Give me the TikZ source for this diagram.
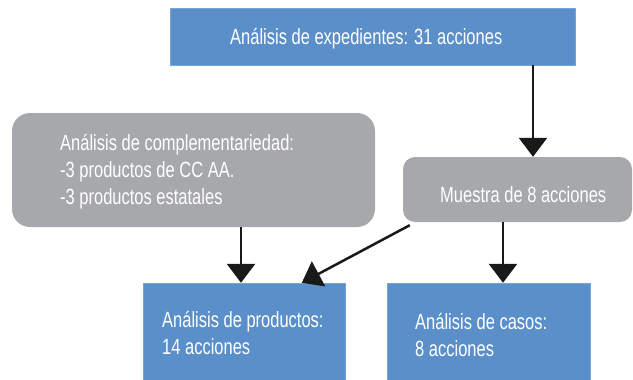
\documentclass[tikz,border=0pt]{standalone}
\usepackage{fontspec}
\setmainfont{Liberation Sans}[FakeStretch=0.75]
\usetikzlibrary{arrows.meta,calc}
\definecolor{boxblue}{RGB}{91,143,202}
\definecolor{boxedge}{RGB}{120,165,215}
\definecolor{boxgray}{RGB}{166,168,171}
\tikzset{
  bluebox/.style={fill=boxblue,draw=boxedge,line width=0.8pt,inner sep=0},
  graybox/.style={fill=boxgray,draw=none,rounded corners=#1,inner sep=0},
  txt/.style={text=white,inner sep=0,align=left,font=\fontsize{22}{27}\selectfont},
  arr/.style={draw=black!90,line width=2.5pt,-{Triangle[width=28pt,length=19pt]}}
}
\begin{document}
\begin{tikzpicture}[x=1pt,y=-1pt]
\useasboundingbox (0,0) rectangle (633,380);
% boxes
\path[bluebox] (170,8) rectangle (575,65);
\path[graybox=18] (12,113) rectangle (375,227);
\path[graybox=12] (403,157) rectangle (632,222);
\path[bluebox] (143,283) rectangle (345,381);
\path[bluebox] (387,283) rectangle (590,381);
% anchor nodes for boxes
\node[minimum width=405pt,minimum height=57pt,inner sep=0] (top) at (372.5,36.5) {};
\node[minimum width=363pt,minimum height=114pt,inner sep=0] (gray) at (193.5,170) {};
\node[minimum width=229pt,minimum height=65pt,inner sep=0] (ms) at (517.5,189.5) {};
\node[minimum width=202pt,minimum height=98pt,inner sep=0] (prod) at (244,332) {};
\node[minimum width=203pt,minimum height=98pt,inner sep=0] (casos) at (488.5,332) {};
% texts
\node[txt,anchor=base west] (t1) at (230,44) {Análisis de expedientes: 31 acciones};
\node[txt,anchor=north west] (t2) at (60,134) {Análisis de complementariedad:\\-3 productos de CC AA.\\-3 productos estatales};
\node[txt,anchor=base west] (t3) at (440,202) {Muestra de 8 acciones};
\node[txt,anchor=north west] (t4) at (162,311) {Análisis de productos:\\14 acciones};
\node[txt,anchor=north west] (t5) at (415,313) {Análisis de casos:\\8 acciones};
% arrows
\draw[arr] (top.south -| 533,0) -- (ms.north -| 533,0);
\draw[arr] (gray.south -| 241,0) -- (prod.north -| 241,0);
\draw[arr] ($(ms.south west)+(7,3)$) -- ($(prod.north west)+(159,0)$);
\draw[arr] (ms.south -| 503,0) -- (casos.north -| 503,0);
\end{tikzpicture}
\end{document}
